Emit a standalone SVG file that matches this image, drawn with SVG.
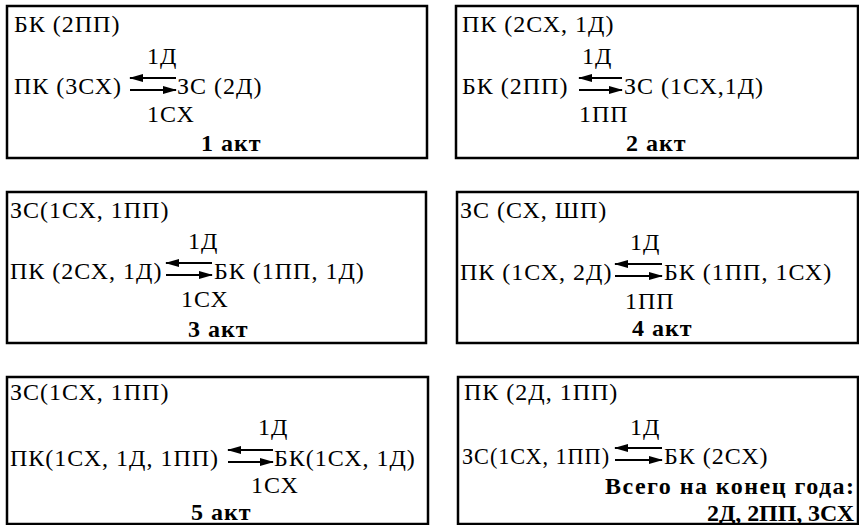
<svg xmlns="http://www.w3.org/2000/svg" width="859" height="525" viewBox="0 0 859 525">
<style>
.box{fill:none;stroke:#000;stroke-width:2.5}
text{font-family:"Liberation Serif","Times New Roman",serif;font-size:24px;letter-spacing:1px;fill:#000}
.b{font-weight:bold}
.ar{stroke:#000;stroke-width:2;fill:none;marker-end:url(#ah)}
</style>
<defs>
<marker id="ah" markerWidth="14" markerHeight="8" refX="13" refY="4" orient="auto" markerUnits="userSpaceOnUse">
<path d="M0,0 L14,4 L0,8 z" fill="#000"/>
</marker>
</defs>
<rect width="859" height="525" fill="#fff"/>
<g id="act1">
<rect class="box" x="7" y="6" width="420" height="152"/>
<text x="14" y="32">БК (2ПП)</text>
<text x="147" y="64">1Д</text>
<text x="14" y="94">ПК (3СХ)</text>
<text x="177" y="94">ЗС (2Д)</text>
<text x="147" y="122">1СХ</text>
<text class="b" x="201" y="151">1 акт</text>
</g>
<g id="act2">
<rect class="box" x="456" y="6" width="402" height="152"/>
<text x="462" y="32">ПК (2СХ, 1Д)</text>
<text x="582" y="64">1Д</text>
<text x="462" y="94">БК (2ПП)</text>
<text x="624" y="94">ЗС (1СХ,1Д)</text>
<text x="579" y="122">1ПП</text>
<text class="b" x="626" y="151">2 акт</text>
</g>
<g id="act3">
<rect class="box" x="7" y="192" width="419" height="151"/>
<text x="10" y="218">ЗС(1СХ, 1ПП)</text>
<text x="188" y="249">1Д</text>
<text x="10" y="279">ПК (2СХ, 1Д)</text>
<text x="214" y="279">БК (1ПП, 1Д)</text>
<text x="181" y="307">1СХ</text>
<text class="b" x="188" y="337">3 акт</text>
</g>
<g id="act4">
<rect class="box" x="457" y="192" width="401" height="151"/>
<text x="460" y="218">ЗС (СХ, ШП)</text>
<text x="630" y="250">1Д</text>
<text x="460" y="280">ПК (1СХ, 2Д)</text>
<text x="664" y="280">БК (1ПП, 1СХ)</text>
<text x="625" y="309">1ПП</text>
<text class="b" x="632" y="336">4 акт</text>
</g>
<g id="act5">
<rect class="box" x="7" y="377" width="421" height="147"/>
<text x="10" y="400">ЗС(1СХ, 1ПП)</text>
<text x="258" y="435">1Д</text>
<text x="10" y="466">ПК(1СХ, 1Д, 1ПП)</text>
<text x="274" y="466">БК(1СХ, 1Д)</text>
<text x="251" y="493">1СХ</text>
<text class="b" x="191" y="520">5 акт</text>
</g>
<g id="result">
<rect class="box" x="458" y="377" width="400" height="147"/>
<text x="464" y="400">ПК (2Д, 1ПП)</text>
<text x="630" y="435">1Д</text>
<text x="462" y="464" textLength="148" lengthAdjust="spacingAndGlyphs">ЗС(1СХ, 1ПП)</text>
<text x="664" y="464">БК (2СХ)</text>
<text class="b" x="855" y="494" text-anchor="end" textLength="250" lengthAdjust="spacing">Всего на конец года:</text>
<text class="b" x="855" y="521" text-anchor="end" textLength="148" lengthAdjust="spacing">2Д, 2ПП, 3СХ</text>
</g>
<g id="connectors">
<line class="ar" x1="176" y1="78" x2="130" y2="78"/>
<line class="ar" x1="130" y1="90" x2="176" y2="90"/>
<line class="ar" x1="622" y1="78" x2="579" y2="78"/>
<line class="ar" x1="579" y1="90" x2="622" y2="90"/>
<line class="ar" x1="212" y1="263" x2="166" y2="263"/>
<line class="ar" x1="166" y1="275" x2="212" y2="275"/>
<line class="ar" x1="662" y1="264" x2="615" y2="264"/>
<line class="ar" x1="615" y1="276" x2="662" y2="276"/>
<line class="ar" x1="273" y1="450" x2="228" y2="450"/>
<line class="ar" x1="228" y1="462" x2="273" y2="462"/>
<line class="ar" x1="662" y1="448" x2="615" y2="448"/>
<line class="ar" x1="615" y1="460" x2="662" y2="460"/>
</g>
</svg>
